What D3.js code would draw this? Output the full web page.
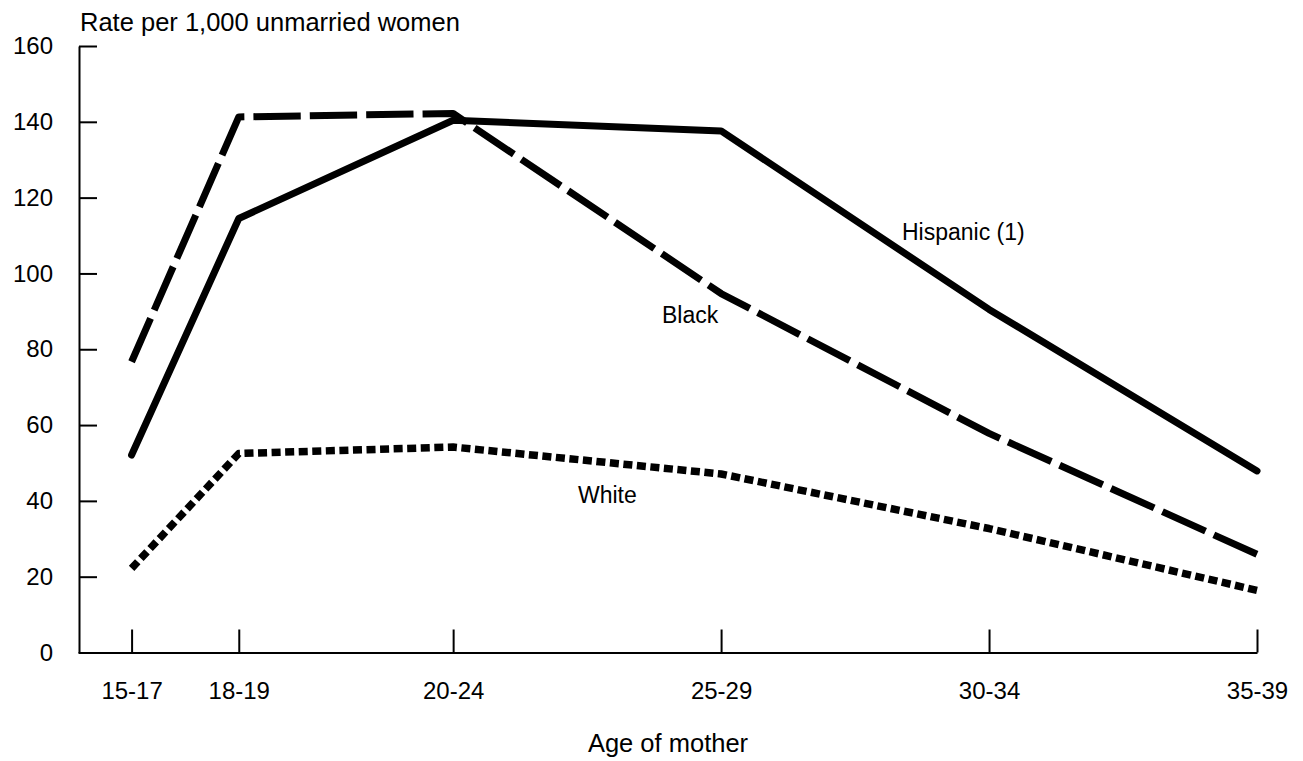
<!DOCTYPE html>
<html>
<head>
<meta charset="utf-8">
<script src="https://cdn.jsdelivr.net/npm/d3@7"></script>
<style>
  html, body { margin: 0; padding: 0; background: #fff; }
  svg { display: block; }
  text { font-family: "Liberation Sans", Arial, Helvetica, sans-serif; fill: #000; }
</style>
</head>
<body>
<svg id="chart" width="1303" height="761"></svg>
<script>
// ---- data ----
const ageGroups = ["15-17", "18-19", "20-24", "25-29", "30-34", "35-39"];
const ageValues = [16, 18, 22, 27, 32, 37];
const hispanic = [52.1, 114.5, 140.4, 137.6, 90.5, 47.9];
const black = [76.7, 141.3, 142.2, 94.7, 57.8, 25.9];
const white = [22.2, 52.5, 54.2, 47.1, 32.7, 16.4];
const yTicks = [0, 20, 40, 60, 80, 100, 120, 140, 160];
const yTitle = "Rate per 1,000 unmarried women";
const xTitle = "Age of mother";
const seriesNames = ["Hispanic (1)", "Black", "White"];

// ---- layout ----
const svg = d3.select("#chart");
const x = d3.scaleLinear().domain([15, 37]).range([78, 1257]);
const y = d3.scaleLinear().domain([0, 160]).range([652.5, 46]);

// axes
const yAxis = d3.axisLeft(y).tickValues(yTicks).tickSizeInner(-18).tickSizeOuter(0).tickPadding(26);
const gy = svg.append("g").attr("transform", "translate(79,0)").call(yAxis);
gy.select(".domain").attr("stroke", "#000").attr("stroke-width", 2);
gy.selectAll(".tick line").attr("stroke", "#000").attr("stroke-width", 2);
gy.selectAll(".tick text").attr("font-size", 24).attr("font-family", "Liberation Sans, Arial, sans-serif");

const xAxis = d3.axisBottom(x).tickValues(ageValues)
  .tickFormat((d, i) => ageGroups[i]).tickSizeInner(-23).tickSizeOuter(0).tickPadding(29);
const gx = svg.append("g").attr("transform", "translate(0,652.5)").call(xAxis);
gx.select(".domain").attr("stroke", "#000").attr("stroke-width", 2);
gx.selectAll(".tick line").attr("stroke", "#000").attr("stroke-width", 2);
gx.selectAll(".tick text").attr("font-size", 24).attr("font-family", "Liberation Sans, Arial, sans-serif");

// titles
svg.append("text").attr("x", 80).attr("y", 31).attr("font-size", 25.5).text(yTitle);
svg.append("text").attr("x", 668).attr("y", 752).attr("text-anchor", "middle").attr("font-size", 25.5).text(xTitle);

// lines
const line = d3.line().x((d, i) => x(ageValues[i])).y(d => y(d)).curve(d3.curveLinear);

function fitDash(path, dash, gap) {
  const L = path.node().getTotalLength();
  const n = Math.max(1, Math.round((L + gap) / (dash + gap)));
  const scale = (L + gap) / (n * (dash + gap));
  path.attr("stroke-dasharray", `${dash * scale},${gap * scale}`);
}

const wPath = svg.append("path").datum(white).attr("d", line)
  .attr("fill", "none").attr("stroke", "#000").attr("stroke-width", 7.5)
  .attr("stroke-linejoin", "round");
fitDash(wPath, 9, 4.5);

const bPath = svg.append("path").datum(black).attr("d", line)
  .attr("fill", "none").attr("stroke", "#000").attr("stroke-width", 7)
  .attr("stroke-linejoin", "round");
fitDash(bPath, 47, 9);

svg.append("path").datum(hispanic).attr("d", line)
  .attr("fill", "none").attr("stroke", "#000").attr("stroke-width", 7)
  .attr("stroke-linecap", "round").attr("stroke-linejoin", "round");

// series labels
const labelPos = [[902, 240], [662, 323], [578, 503]];
seriesNames.forEach((n, i) => {
  svg.append("text").attr("x", labelPos[i][0]).attr("y", labelPos[i][1])
    .attr("font-size", 23).text(n);
});
</script>
</body>
</html>
